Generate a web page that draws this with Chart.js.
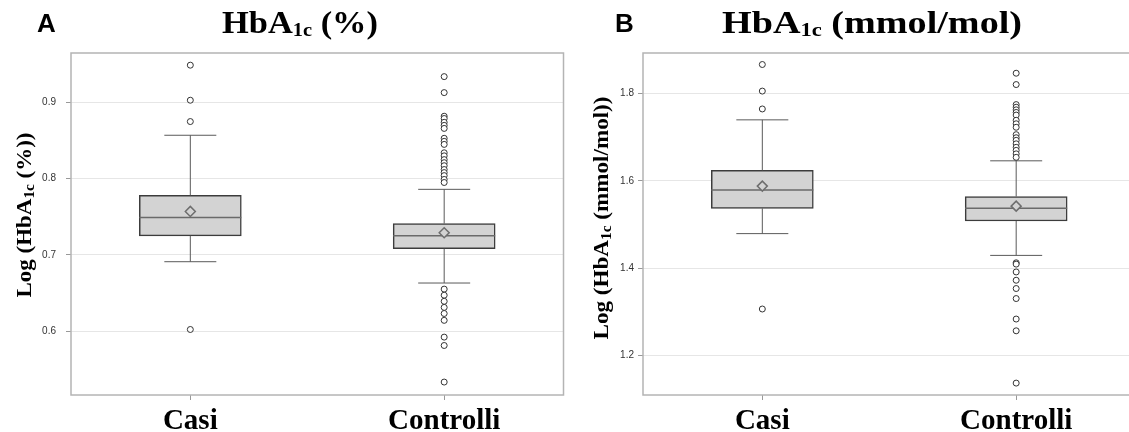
<!DOCTYPE html>
<html>
<head>
<meta charset="utf-8">
<script src="https://cdn.jsdelivr.net/npm/chart.js@4.4.1/dist/chart.umd.min.js"></script>
<style>
  html, body { margin: 0; padding: 0; background: #fff; overflow: hidden; }
  body { width: 1129px; height: 432px; position: relative; }
  .panel { position: absolute; top: 0; height: 432px; }
</style>
</head>
<body>
<div class="panel" style="left:0; width:570px;"><canvas id="chartA"></canvas></div>
<div class="panel" style="left:570px; width:572px;"><canvas id="chartB"></canvas></div>
<script>
// groups on the x axis
const categories = ['Casi', 'Controlli'];

// A: Log(HbA1c %)
const lowA = [0.691, 0.663];
const q1A = [0.725, 0.708];
const medA = [0.749, 0.725];
const q3A = [0.778, 0.741];
const highA = [0.857, 0.786];
const meanA = [0.757, 0.729];
const outCasiA = [0.949, 0.903, 0.875, 0.602];
const outCtrlA = [0.934, 0.913, 0.882, 0.879, 0.874, 0.870, 0.866, 0.853, 0.849, 0.845,
                  0.834, 0.830, 0.825, 0.821, 0.817, 0.812, 0.808, 0.804, 0.799, 0.795,
                  0.655, 0.647, 0.639, 0.631, 0.623, 0.614, 0.592, 0.581, 0.533];
const yTicksA = [0.6, 0.7, 0.8, 0.9];

// B: Log(HbA1c mmol/mol)
const lowB = [1.479, 1.429];
const q1B = [1.537, 1.508];
const medB = [1.579, 1.537];
const q3B = [1.624, 1.564];
const highB = [1.740, 1.646];
const meanB = [1.588, 1.542];
const outCasiB = [1.867, 1.806, 1.765, 1.306];
const outCtrlB = [1.847, 1.821, 1.775, 1.769, 1.763, 1.757, 1.751, 1.739, 1.731, 1.723,
                  1.706, 1.699, 1.693, 1.685, 1.677, 1.670, 1.662, 1.654,
                  1.412, 1.409, 1.391, 1.372, 1.353, 1.330, 1.283, 1.256, 1.136];
const yTicksB = [1.2, 1.4, 1.6, 1.8];

const SERIF = '"Liberation Serif", "Times New Roman", serif';
const SANS = '"Liberation Sans", Arial, sans-serif';

// draws text made of pieces (for the 1c subscript), centred on cx
function drawRich(ctx, parts, cx, baseline, targetWidth) {
  let total = 0;
  const widths = parts.map(p => {
    ctx.font = 'bold ' + p.size + 'px ' + SERIF;
    const w = ctx.measureText(p.t).width;
    total += w;
    return w;
  });
  const sx = targetWidth ? targetWidth / total : 1;
  ctx.save();
  ctx.translate(cx, baseline);
  ctx.scale(sx, 1);
  ctx.fillStyle = '#000';
  ctx.textBaseline = 'alphabetic';
  ctx.textAlign = 'left';
  let x = -total / 2;
  parts.forEach((p, i) => {
    ctx.font = 'bold ' + p.size + 'px ' + SERIF;
    ctx.fillText(p.t, x, p.dy || 0);
    x += widths[i];
  });
  ctx.restore();
}

const boxExtras = {
  id: 'boxExtras',
  afterDatasetDraw(chart, args, opts) {
    if (args.index !== 0) return;
    const ctx = chart.ctx, xs = chart.scales.x, ys = chart.scales.y;
    ctx.save();
    categories.forEach((c, i) => {
      const px = xs.getPixelForValue(i + 1);
      const half = 51, cap = 26;
      ctx.strokeStyle = '#5a5a5a';
      ctx.lineWidth = 1;
      ctx.beginPath();
      ctx.moveTo(px, ys.getPixelForValue(opts.q3[i]));
      ctx.lineTo(px, ys.getPixelForValue(opts.high[i]));
      ctx.moveTo(px - cap, ys.getPixelForValue(opts.high[i]));
      ctx.lineTo(px + cap, ys.getPixelForValue(opts.high[i]));
      ctx.moveTo(px, ys.getPixelForValue(opts.q1[i]));
      ctx.lineTo(px, ys.getPixelForValue(opts.low[i]));
      ctx.moveTo(px - cap, ys.getPixelForValue(opts.low[i]));
      ctx.lineTo(px + cap, ys.getPixelForValue(opts.low[i]));
      ctx.stroke();
      ctx.strokeStyle = '#6a6a6a';
      ctx.lineWidth = 1.5;
      ctx.beginPath();
      ctx.moveTo(px - half, ys.getPixelForValue(opts.med[i]));
      ctx.lineTo(px + half, ys.getPixelForValue(opts.med[i]));
      ctx.stroke();
    });
    ctx.restore();
  },
  afterDraw(chart, args, opts) {
    const ctx = chart.ctx, a = chart.chartArea;
    ctx.save();
    // frame
    ctx.strokeStyle = '#b4b4b4';
    ctx.lineWidth = 1.5;
    ctx.strokeRect(a.left, a.top, a.right - a.left, a.bottom - a.top);
    // panel letter
    ctx.fillStyle = '#000';
    ctx.font = 'bold 26px ' + SANS;
    ctx.textAlign = 'left';
    ctx.textBaseline = 'alphabetic';
    ctx.fillText(opts.letter, opts.letterX, 32);
    // title
    drawRich(ctx, opts.title, opts.titleX, 33, opts.titleW);
    // y axis title
    ctx.translate(opts.yTitleX, opts.yTitleY);
    ctx.rotate(-Math.PI / 2);
    drawRich(ctx, opts.yTitle, 0, 0, opts.yTitleW);
    ctx.restore();
  }
};

function makeChart(id, d) {
  const outliers = [];
  d.outs.forEach((arr, i) => arr.forEach(v => outliers.push({ x: i + 1, y: v })));
  return new Chart(document.getElementById(id), {
    type: 'bar',
    data: {
      datasets: [
        {
          type: 'bar',
          data: categories.map((c, i) => ({ x: i + 1, y: [d.q1[i], d.q3[i]] })),
          backgroundColor: '#d3d3d3',
          borderColor: '#3c3c3c',
          borderWidth: 1.5,
          borderSkipped: false,
          barThickness: 102,
          order: 3
        },
        {
          type: 'scatter',
          data: outliers,
          pointStyle: 'circle',
          pointRadius: 3,
          pointBorderWidth: 1,
          pointBorderColor: '#333',
          pointBackgroundColor: '#fff',
          order: 1
        },
        {
          type: 'scatter',
          data: categories.map((c, i) => ({ x: i + 1, y: d.mean[i] })),
          pointStyle: 'rectRot',
          pointRadius: 5,
          pointBorderWidth: 1.5,
          pointBorderColor: '#6e6e6e',
          pointBackgroundColor: '#d3d3d3',
          order: 0
        }
      ]
    },
    options: {
      responsive: true,
      maintainAspectRatio: false,
      animation: false,
      events: [],
      layout: { padding: { top: 53, right: 4, left: 0, bottom: 0 } },
      plugins: {
        legend: { display: false },
        tooltip: { enabled: false },
        boxExtras: d.extras
      },
      scales: {
        x: {
          type: 'linear',
          min: 0.53,
          max: 2.47,
          offset: false,
          afterBuildTicks: s => { s.ticks = categories.map((c, i) => ({ value: i + 1 })); },
          afterFit: s => { s.height = 37; },
          border: { display: false },
          grid: { offset: false, drawOnChartArea: false, tickLength: 5, tickColor: '#999' },
          ticks: {
            callback: v => categories[v - 1],
            color: '#000',
            padding: 4,
            font: { family: SERIF, size: 29, weight: 'bold' }
          }
        },
        y: {
          min: d.yMin,
          max: d.yMax,
          afterBuildTicks: s => { s.ticks = d.yTicks.map(v => ({ value: v })); },
          afterFit: s => { s.width = d.yWidth; },
          border: { display: false },
          grid: { color: '#e6e6e6', tickLength: 5, tickColor: '#999' },
          ticks: {
            callback: v => v.toFixed(1),
            color: '#333',
            padding: d.yPad,
            font: { family: SANS, size: 10 }
          }
        }
      }
    },
    plugins: [boxExtras]
  });
}

makeChart('chartA', {
  q1: q1A, q3: q3A, mean: meanA, outs: [outCasiA, outCtrlA],
  yMin: 0.516, yMax: 0.965, yTicks: yTicksA, yWidth: 71, yPad: 10,
  extras: {
    low: lowA, q1: q1A, med: medA, q3: q3A, high: highA,
    letter: 'A', letterX: 37,
    title: [{ t: 'HbA', size: 32 }, { t: '1c', size: 19, dy: 3 }, { t: ' (%)', size: 32 }],
    titleX: 300, titleW: 156,
    yTitle: [{ t: 'Log (HbA', size: 21 }, { t: '1c', size: 14, dy: 3 }, { t: ' (%))', size: 21 }],
    yTitleX: 31, yTitleY: 215, yTitleW: 165
  }
});

makeChart('chartB', {
  q1: q1B, q3: q3B, mean: meanB, outs: [outCasiB, outCtrlB],
  yMin: 1.1087, yMax: 1.8934, yTicks: yTicksB, yWidth: 73, yPad: 4,
  extras: {
    low: lowB, q1: q1B, med: medB, q3: q3B, high: highB,
    letter: 'B', letterX: 45,
    title: [{ t: 'HbA', size: 32 }, { t: '1c', size: 19, dy: 3 }, { t: ' (mmol/mol)', size: 32 }],
    titleX: 302, titleW: 300,
    yTitle: [{ t: 'Log (HbA', size: 21 }, { t: '1c', size: 14, dy: 3 }, { t: ' (mmol/mol))', size: 21 }],
    yTitleX: 38, yTitleY: 218, yTitleW: 243
  }
});
</script>
</body>
</html>
